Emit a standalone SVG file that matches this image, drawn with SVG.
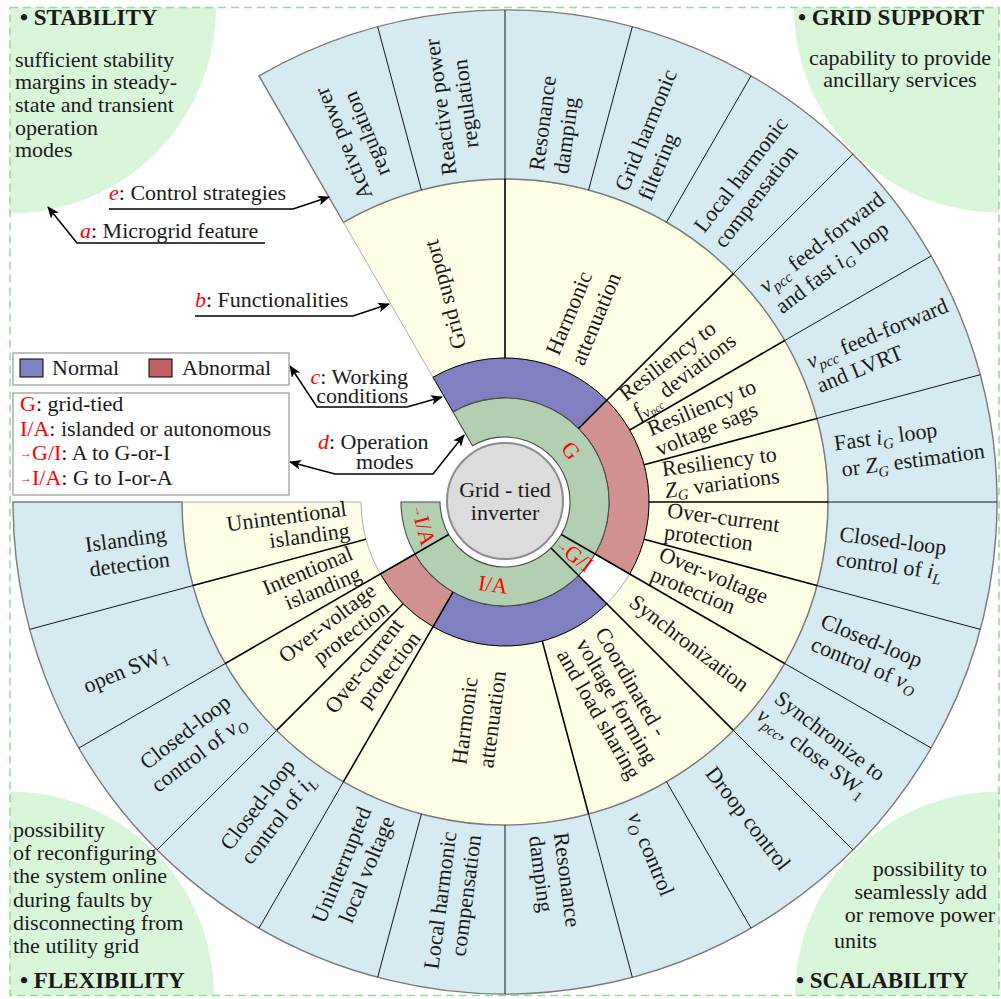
<svg xmlns="http://www.w3.org/2000/svg" width="1001" height="999" viewBox="0 0 1001 999">
<defs>
<clipPath id="frame"><rect x="10" y="7.5" width="989" height="988"/></clipPath>
<marker id="arr" viewBox="0 0 12 10" refX="11" refY="5" markerWidth="12" markerHeight="10" markerUnits="userSpaceOnUse" orient="auto-start-reverse">
<path d="M0,0 L12,5 L0,10 L3,5 Z" fill="#000"/>
</marker>
</defs>
<style>
text{font-family:"Liberation Serif","Times New Roman",serif;font-size:22px;fill:#1a1a1a}
.b{font-weight:bold;font-size:23px}
.r{fill:#f00}
.i{font-style:italic}
.s{font-size:15px}
.ss{font-size:11px}
.thick{stroke:#000;stroke-width:1.6;fill:none}
.thin{stroke:#000;stroke-width:0.9;fill:none}
.ann{stroke:#000;stroke-width:1.5;fill:none;marker-end:url(#arr)}
</style>
<rect width="1001" height="999" fill="#fff"/>
<g id="corners" clip-path="url(#frame)" fill="#d9f6da">
<circle cx="10" cy="7.5" r="206"/>
<circle cx="999" cy="7.5" r="205"/>
<circle cx="10" cy="995.5" r="204"/>
<circle cx="999" cy="995.5" r="204"/>
</g>
<rect x="10" y="7.5" width="989" height="988" fill="none" stroke="#8fe08f" stroke-width="1.5" stroke-dasharray="8 5"/>

<g id="corner-texts">
<g id="stability">
<text x="20" y="25" class="b">• STABILITY</text>
<text x="15" y="67">sufficient stability</text>
<text x="15" y="89">margins in steady-</text>
<text x="15" y="112">state and transient</text>
<text x="15" y="135">operation</text>
<text x="15" y="157">modes</text>
</g>
<g id="grid-support">
<text x="798" y="25" class="b">• GRID SUPPORT</text>
<text x="900" y="65" text-anchor="middle">capability to provide</text>
<text x="900" y="87" text-anchor="middle">ancillary services</text>
</g>
<g id="flexibility">
<text x="13" y="837">possibility</text>
<text x="13" y="860">of reconfiguring</text>
<text x="13" y="883">the system online</text>
<text x="13" y="907">during faults by</text>
<text x="13" y="930">disconnecting from</text>
<text x="13" y="953">the utility grid</text>
<text x="20" y="988" class="b">• FLEXIBILITY</text>
</g>
<g id="scalability">
<text x="987" y="876" text-anchor="end">possibility to</text>
<text x="987" y="899" text-anchor="end">seamlessly add</text>
<text x="995" y="922" text-anchor="end">or remove power</text>
<text x="834" y="948">units</text>
<text x="796" y="988" class="b">• SCALABILITY</text>
</g>
</g>

<g id="rings">
<path id="ring-functionalities" d="M343.5,222.3 A323,323 0 1 1 182,502 L361,502 A144,144 0 1 0 433,377.3 Z" fill="#fefee6" stroke="#b0b0b0" stroke-width="1"/>
<path id="ring-strategies" d="M259,75.9 A492,492 0 1 1 13,502 L182,502 A323,323 0 1 0 343.5,222.3 Z" fill="#d6eaf1" stroke="#7a7a7a" stroke-width="1.4"/>
<g id="ring-conditions" stroke="#000" stroke-width="1">
<path d="M433,377.3 A144,144 0 0 1 606.8,400.2 L578.5,428.5 A104,104 0 0 0 453,411.9 Z" fill="#8080c0"/>
<path d="M606.8,400.2 A144,144 0 0 1 629.7,574 L595.1,554 A104,104 0 0 0 578.5,428.5 Z" fill="#d29191"/>
<path d="M606.8,603.8 A144,144 0 0 1 433,626.7 L453,592.1 A104,104 0 0 0 578.5,575.5 Z" fill="#8080c0"/>
<path d="M433,626.7 A144,144 0 0 1 380.3,574 L414.9,554 A104,104 0 0 0 453,592.1 Z" fill="#d29191"/>
</g>
<path id="ring-modes" d="M453,411.9 A104,104 0 1 1 401,502 L440,502 A65,65 0 1 0 472.5,445.7 Z" fill="#b2cfb2" stroke="#4a4a4a" stroke-width="1.1"/>
</g>

<g id="connectors">
<path class="thick" d="M505,358 V179 M578.5,428.5 L733.4,273.6 M629.7,430 L784.7,340.5 M644.1,464.7 L817,418.4 M649,502 H828 M644.1,539.3 L817,585.6 M561.3,534.5 L784.7,663.5 M551,548 L733.4,730.4 M542.3,641.1 L588.6,814 M453,592.1 L343.5,781.7 M403.2,603.8 L276.6,730.4 M448.7,534.5 L225.3,663.5 M365.9,539.3 L193,585.6"/>
<path class="thin" d="M421.4,190 L377.7,26.8 M505,179 V10 M588.6,190 L632.3,26.8 M666.5,222.3 L751,75.9 M733.4,273.6 L852.9,154.1 M784.7,340.5 L931.1,256 M817,418.4 L980.2,374.7 M828,502 H997 M817,585.6 L980.2,629.3 M784.7,663.5 L931.1,748 M733.4,730.4 L852.9,849.9 M666.5,781.7 L751,928.1 M588.6,814 L632.3,977.2 M505,825 V994 M421.4,814 L377.7,977.2 M343.5,781.7 L259,928.1 M276.6,730.4 L157.1,849.9 M225.3,663.5 L78.9,748 M193,585.6 L29.8,629.3"/>
<polyline class="ann" points="109,209 293,209 329,197"/>
<polyline class="ann" points="265,243 77,243 48,207"/>
<polyline class="ann" points="195,316 353,316 389,304"/>
<polyline class="ann" points="290,366 317,407 407,407 442,397" marker-start="url(#arr)"/>
<polyline class="ann" points="290,462 335,474 433,474 464,435" marker-start="url(#arr)"/>
</g>

<g id="center-node">
<circle cx="505" cy="501" r="58" fill="#dcdcdc" stroke="#8c8c8c" stroke-width="2"/>
<text x="505" y="497" text-anchor="middle" font-size="21">Grid - tied</text>
<text x="505" y="520" text-anchor="middle" font-size="21">inverter</text>
</g>

<g id="mode-labels" font-size="21">
<text id="mode-g" class="r" transform="translate(570.7,450.7) rotate(52)" y="7" text-anchor="middle">G</text>
<text id="mode-gi" class="r" transform="translate(574,555) rotate(37.5)" y="7" text-anchor="middle"><tspan font-size="12" dy="-3">→</tspan><tspan dy="3">G/I</tspan></text>
<text id="mode-ia" class="r" transform="translate(493,585) rotate(7.5)" y="7" text-anchor="middle">I/A</text>
<text id="mode-toia" class="r" transform="translate(423,525) rotate(75)" y="7" text-anchor="middle"><tspan font-size="12" dy="-3">→</tspan><tspan dy="3">I/A</tspan></text>
</g>

<g id="functionalities">
<g id="f-grid-support" transform="rotate(-105 505 502)"><text x="665" y="505">Grid support</text></g>
<g id="f-harm-top" transform="rotate(-67.5 505 502)"><text><tspan x="660" y="496">Harmonic</tspan><tspan x="660" y="523">attenuation</tspan></text></g>
<g id="f-res-f" transform="rotate(-37.5 505 502)"><text><tspan x="662" y="496">Resiliency to</tspan><tspan x="662" y="518"><tspan class="i">f</tspan><tspan class="i s" dy="4">v</tspan><tspan class="i ss" dy="2">pcc</tspan><tspan dy="-6"> deviations</tspan></tspan></text></g>
<g id="f-res-sag" transform="rotate(-22.5 505 502)"><text><tspan x="665" y="497">Resiliency to</tspan><tspan x="665" y="519">voltage sags</tspan></text></g>
<g id="f-res-zg" transform="rotate(-7.5 505 502)"><text><tspan x="665" y="497">Resiliency to</tspan><tspan x="665" y="519"><tspan class="i">Z</tspan><tspan class="i s" dy="4">G</tspan><tspan dy="-4"> variations</tspan></tspan></text></g>
<g id="f-oc-g" transform="rotate(7.5 505 502)"><text><tspan x="667" y="496">Over-current</tspan><tspan x="667" y="518">protection</tspan></text></g>
<g id="f-ov-g" transform="rotate(22.5 505 502)"><text><tspan x="668" y="497">Over-voltage</tspan><tspan x="668" y="519">protection</tspan></text></g>
<g id="f-sync" transform="rotate(37.5 505 502)"><text x="665" y="509">Synchronization</text></g>
<g id="f-coord" transform="rotate(60 505 502)"><text><tspan x="663" y="490">Coordinated -</tspan><tspan x="663" y="512">voltage forming</tspan><tspan x="663" y="534">and load sharing</tspan></text></g>
<g id="f-harm-bot" transform="rotate(-82.5 505 502)"><text><tspan x="239" y="498">Harmonic</tspan><tspan x="239" y="525">attenuation</tspan></text></g>
<g id="f-oc-i" transform="rotate(-52.5 505 502)"><text text-anchor="end"><tspan x="346" y="497">Over-current</tspan><tspan x="346" y="519">protection</tspan></text></g>
<g id="f-ov-i" transform="rotate(-37.5 505 502)"><text text-anchor="end"><tspan x="348" y="497">Over-voltage</tspan><tspan x="348" y="519">protection</tspan></text></g>
<g id="f-int-isl" transform="rotate(-22.5 505 502)"><text text-anchor="end"><tspan x="344" y="497">Intentional</tspan><tspan x="344" y="519">islanding</tspan></text></g>
<g id="f-unint-isl" transform="rotate(-7.5 505 502)"><text text-anchor="end"><tspan x="347" y="495">Unintentional</tspan><tspan x="347" y="517">islanding</tspan></text></g>
</g>

<g id="strategies">
<g id="s-active" transform="rotate(-112.5 505 502)"><text text-anchor="middle"><tspan x="898" y="497">Active power</tspan><tspan x="898" y="522">regulation</tspan></text></g>
<g id="s-reactive" transform="rotate(-97.5 505 502)"><text text-anchor="middle"><tspan x="905" y="497">Reactive power</tspan><tspan x="905" y="522">regulation</tspan></text></g>
<g id="s-res-top" transform="rotate(-82.5 505 502)"><text><tspan x="838" y="497">Resonance</tspan><tspan x="838" y="522">damping</tspan></text></g>
<g id="s-grid-harm" transform="rotate(-67.5 505 502)"><text><tspan x="838" y="497">Grid harmonic</tspan><tspan x="838" y="522">filtering</tspan></text></g>
<g id="s-local-top" transform="rotate(-52.5 505 502)"><text><tspan x="839" y="497">Local harmonic</tspan><tspan x="839" y="522">compensation</tspan></text></g>
<g id="s-vpcc-ig" transform="rotate(-37.5 505 502)"><text><tspan x="839" y="496"><tspan class="i">v</tspan><tspan class="i s" dy="5">pcc</tspan><tspan dy="-5"> feed-forward</tspan></tspan><tspan x="839" y="522">and fast <tspan class="i">i</tspan><tspan class="i s" dy="5">G</tspan><tspan dy="-5"> loop</tspan></tspan></text></g>
<g id="s-vpcc-lvrt" transform="rotate(-22.5 505 502)"><text><tspan x="838" y="496"><tspan class="i">v</tspan><tspan class="i s" dy="5">pcc</tspan><tspan dy="-5"> feed-forward</tspan></tspan><tspan x="838" y="522">and LVRT</tspan></text></g>
<g id="s-fast-ig" transform="rotate(-7.5 505 502)"><text><tspan x="839" y="494">Fast <tspan class="i">i</tspan><tspan class="i s" dy="5">G</tspan><tspan dy="-5"> loop</tspan></tspan><tspan x="843" y="521">or <tspan class="i">Z</tspan><tspan class="i s" dy="5">G</tspan><tspan dy="-5"> estimation</tspan></tspan></text></g>
<g id="s-cl-il-g" transform="rotate(7.5 505 502)"><text><tspan x="841" y="497">Closed-loop</tspan><tspan x="841" y="522">control of <tspan class="i">i</tspan><tspan class="i s" dy="5">L</tspan></tspan></text></g>
<g id="s-cl-vo-g" transform="rotate(22.5 505 502)"><text><tspan x="843" y="497">Closed-loop</tspan><tspan x="843" y="522">control of <tspan class="i">v</tspan><tspan class="i s" dy="5">O</tspan></tspan></text></g>
<g id="s-sync" transform="rotate(37.5 505 502)"><text><tspan x="839" y="497">Synchronize to</tspan><tspan x="835" y="521"><tspan class="i">v</tspan><tspan class="i s" dy="5">pcc</tspan><tspan dy="-5">, close SW</tspan><tspan class="s" dy="5">1</tspan></tspan></text></g>
<g id="s-droop" transform="rotate(52.5 505 502)"><text x="842" y="509">Droop control</text></g>
<g id="s-vo" transform="rotate(67.5 505 502)"><text x="842" y="509"><tspan class="i">v</tspan><tspan class="i s" dy="5">O</tspan><tspan dy="-5"> control</tspan></text></g>
<g id="s-res-bot" transform="rotate(82.5 505 502)"><text><tspan x="840" y="497">Resonance</tspan><tspan x="840" y="522">damping</tspan></text></g>
<g id="s-local-bot" transform="rotate(-82.5 505 502)"><text text-anchor="end"><tspan x="171" y="497">Local harmonic</tspan><tspan x="171" y="522">compensation</tspan></text></g>
<g id="s-uninterrupted" transform="rotate(-67.5 505 502)"><text text-anchor="end"><tspan x="169" y="497">Uninterrupted</tspan><tspan x="169" y="522">local voltage</tspan></text></g>
<g id="s-cl-il-i" transform="rotate(-52.5 505 502)"><text text-anchor="end"><tspan x="168" y="497">Closed-loop</tspan><tspan x="168" y="522">control of <tspan class="i">i</tspan><tspan class="i s" dy="5">L</tspan></tspan></text></g>
<g id="s-cl-vo-i" transform="rotate(-37.5 505 502)"><text text-anchor="end"><tspan x="165" y="497">Closed-loop</tspan><tspan x="165" y="522">control of <tspan class="i">v</tspan><tspan class="i s" dy="5">O</tspan></tspan></text></g>
<g id="s-open-sw" transform="rotate(-22.5 505 502)"><text text-anchor="middle" x="90" y="519">open SW<tspan class="s" dy="5">1</tspan></text></g>
<g id="s-islanding" transform="rotate(-7.5 505 502)"><text text-anchor="end"><tspan x="165" y="497">Islanding</tspan><tspan x="165" y="522">detection</tspan></text></g>
</g>

<g id="legend-conditions">
<rect x="13" y="353" width="276" height="32" fill="#fff" stroke="#999" stroke-width="1.2"/>
<rect x="20" y="359" width="23" height="18" fill="#8080c0" stroke="#000"/>
<text x="52" y="375">Normal</text>
<rect x="149" y="359" width="23" height="18" fill="#c06060" stroke="#000"/>
<text x="182" y="375">Abnormal</text>
</g>
<g id="legend-modes">
<rect x="13" y="393" width="276" height="102" fill="#fff" stroke="#999" stroke-width="1.2"/>
<text x="20" y="411"><tspan class="r">G</tspan>: grid-tied</text>
<text x="20" y="436"><tspan class="r">I/A</tspan>: islanded or autonomous</text>
<text x="20" y="460"><tspan class="r" font-size="12" dy="-3">→</tspan><tspan class="r" dy="3">G/I</tspan>: A to G-or-I</text>
<text x="20" y="485"><tspan class="r" font-size="12" dy="-3">→</tspan><tspan class="r" dy="3">I/A</tspan>: G to I-or-A</text>
</g>

<g id="annotations">
<text id="ann-e" x="109" y="200"><tspan class="r i">e</tspan>: Control strategies</text>
<text id="ann-a" x="80" y="238"><tspan class="r i">a</tspan>:  Microgrid feature</text>
<text id="ann-b" x="195" y="307"><tspan class="r i">b</tspan>: Functionalities</text>
<text id="ann-c" text-anchor="end" font-size="21"><tspan x="408" y="384"><tspan class="r i">c</tspan>: Working</tspan><tspan x="408" y="403">conditions</tspan></text>
<text id="ann-d" font-size="21"><tspan x="318" y="449"><tspan class="r i">d</tspan>: Operation</tspan><tspan x="356" y="469">modes</tspan></text>
</g>
</svg>
